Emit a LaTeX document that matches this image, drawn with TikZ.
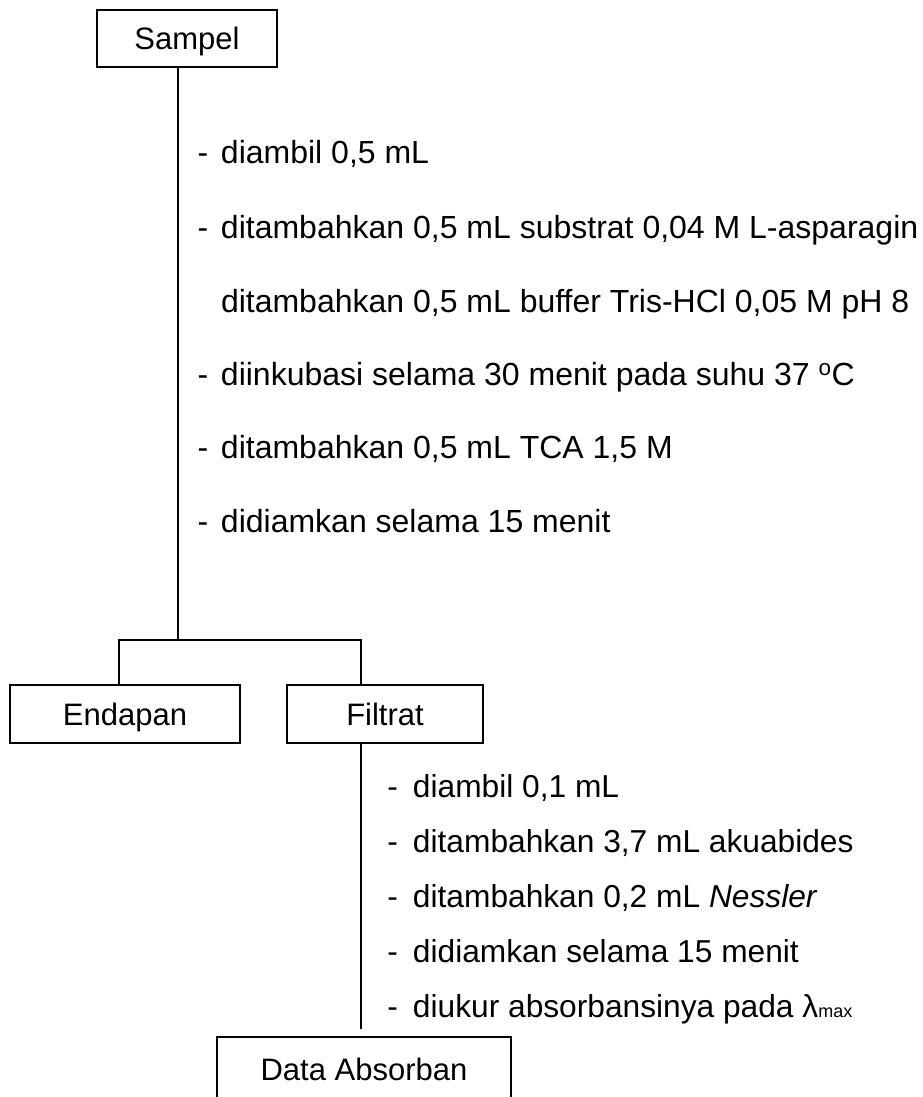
\documentclass[tikz,border=0pt]{standalone}
\usepackage{fontspec}
\setmainfont{Liberation Sans}
\begin{document}
\begin{tikzpicture}[x=1pt,y=-1pt,line width=2pt,
  every node/.style={inner sep=0pt,outer sep=0pt},
  stepbox/.style={draw,line width=2pt,text height=22pt,text depth=0pt,
    font=\fontsize{31}{37}\selectfont},
  steptext/.style={anchor=base west,font=\fontsize{32}{38}\selectfont},
  subtext/.style={anchor=base west,font=\fontsize{31.7}{38}\selectfont}]
  \useasboundingbox (0,0) rectangle (923,1097);
  \clip (0,0) rectangle (923,1097);

  % boxes
  \node[stepbox,minimum width=180pt,minimum height=57pt] (sampel) at (187,38.5) {Sampel};
  \node[stepbox,minimum width=230pt,minimum height=58pt] (endapan) at (125,714) {Endapan};
  \node[stepbox,minimum width=196pt,minimum height=58pt] (filtrat) at (385,714) {Filtrat};
  \node[stepbox,minimum width=294pt,minimum height=64pt,anchor=north] (data) at (364,1037) {Data Absorban};

  % junction points
  \coordinate (j)  at (178,640);
  \coordinate (jl) at (119,640);
  \coordinate (jr) at (361,640);
  \coordinate (tail) at (361,1029);

  % connectors
  \draw (sampel.south -| j) -- (j);
  \draw (endapan.north -| jl) -- (jl) -- (jr) -- (filtrat.north -| jr);
  \draw (filtrat.south -| tail) -- (tail);

  % treatment of the sample
  \node[steptext] (s1) at (221,164) {\llap{-\hspace{12.7pt}}diambil 0,5 mL};
  \node[steptext] (s2) at (221,238) {\llap{-\hspace{12.7pt}}ditambahkan 0,5 mL substrat 0,04 M L-asparagin};
  \node[steptext] (s3) at (221,312) {ditambahkan 0,5 mL buffer Tris-HCl 0,05 M pH 8};
  \node[steptext] (s4) at (221,385) {\llap{-\hspace{12.7pt}}diinkubasi selama 30 menit pada suhu 37 \textsuperscript{o}C};
  \node[steptext] (s5) at (221,458) {\llap{-\hspace{12.7pt}}ditambahkan 0,5 mL TCA 1,5 M};
  \node[steptext] (s6) at (221,532) {\llap{-\hspace{12.7pt}}didiamkan selama 15 menit};

  % treatment of the filtrate
  \node[subtext] (f1) at (413,797)  {\llap{-\hspace{15pt}}diambil 0,1 mL};
  \node[subtext] (f2) at (413,852)  {\llap{-\hspace{15pt}}ditambahkan 3,7 mL akuabides};
  \node[subtext] (f3) at (413,907)  {\llap{-\hspace{15pt}}ditambahkan 0,2 mL \textit{Nessler}};
  \node[subtext] (f4) at (413,962)  {\llap{-\hspace{15pt}}didiamkan selama 15 menit};
  \node[subtext] (f5) at (413,1017) {\llap{-\hspace{15pt}}diukur absorbansinya pada λ{\fontsize{18}{20}\selectfont max}};
\end{tikzpicture}
\end{document}
